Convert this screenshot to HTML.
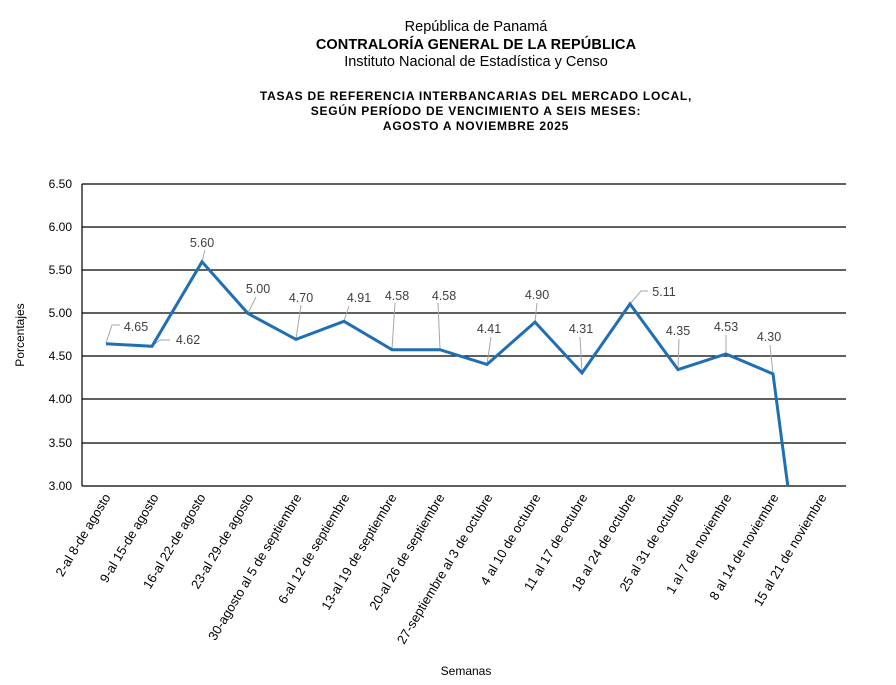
<!DOCTYPE html>
<html><head><meta charset="utf-8"><style>
body{margin:0;background:#fff;}
svg{display:block;font-family:"Liberation Sans",sans-serif;}
</style></head><body>
<svg width="896" height="685" viewBox="0 0 896 685">
<rect width="896" height="685" fill="#fff"/>
<g text-anchor="middle" fill="#000">
<text x="476" y="31" font-size="14.5">República de Panamá</text>
<text x="476" y="49" font-size="14.5" font-weight="bold" letter-spacing="0.1">CONTRALORÍA GENERAL DE LA REPÚBLICA</text>
<text x="476" y="66" font-size="14.5">Instituto Nacional de Estadística y Censo</text>
<text x="476" y="100" font-size="12" font-weight="bold" letter-spacing="0.75">TASAS DE REFERENCIA INTERBANCARIAS DEL MERCADO LOCAL,</text>
<text x="476" y="115" font-size="12" font-weight="bold" letter-spacing="0.75">SEGÚN PERÍODO DE VENCIMIENTO A SEIS MESES:</text>
<text x="476" y="130" font-size="12" font-weight="bold" letter-spacing="0.75">AGOSTO A NOVIEMBRE 2025</text>
</g>
<g stroke="#000" stroke-width="1.2">
<line x1="82" y1="184" x2="846" y2="184"/>
<line x1="82" y1="227" x2="846" y2="227"/>
<line x1="82" y1="270" x2="846" y2="270"/>
<line x1="82" y1="313" x2="846" y2="313"/>
<line x1="82" y1="356" x2="846" y2="356"/>
<line x1="82" y1="399" x2="846" y2="399"/>
<line x1="82" y1="443" x2="846" y2="443"/>
<line x1="82" y1="486" x2="846" y2="486"/>
<line x1="82" y1="184" x2="82" y2="486"/>
</g>
<g font-size="12" text-anchor="end" fill="#000">
<text x="72" y="188">6.50</text><text x="72" y="231">6.00</text><text x="72" y="274">5.50</text>
<text x="72" y="317">5.00</text><text x="72" y="360">4.50</text><text x="72" y="403">4.00</text>
<text x="72" y="447">3.50</text><text x="72" y="490">3.00</text>
</g>
<text transform="translate(24,335) rotate(-90)" font-size="12" text-anchor="middle">Porcentajes</text>
<text x="466" y="675" font-size="12" text-anchor="middle">Semanas</text>
<g stroke="#a6a6a6" stroke-width="1" fill="none">
<polyline points="106,343 112,325 120,325"/>
<polyline points="152,346 160,340 170,340"/>
<line x1="202" y1="262" x2="205" y2="250"/>
<line x1="248" y1="313" x2="256" y2="297"/>
<line x1="296" y1="339" x2="301" y2="305"/>
<line x1="344" y1="321" x2="349" y2="306"/>
<line x1="392" y1="349" x2="395" y2="303"/>
<line x1="440" y1="349" x2="438" y2="303"/>
<line x1="487" y1="364" x2="491" y2="337"/>
<line x1="535" y1="322" x2="537" y2="303"/>
<line x1="582" y1="373" x2="580" y2="337"/>
<polyline points="630,304 641,291 648,291"/>
<line x1="678" y1="369" x2="679" y2="339"/>
<line x1="726" y1="354" x2="726" y2="335"/>
<line x1="773" y1="374" x2="770" y2="345"/>
</g>
<polyline fill="none" stroke="#1f6fb5" stroke-width="3" stroke-linejoin="miter"
points="106,343.7 152,346.3 202,261.8 248,313.5 296,339.4 344,321.3 392,349.7 440,349.7 487,364.4 535,322.1 582,373 630,304 678,369.6 726,354 773,373.9 787.8,486"/>
<g font-size="12.5" fill="#404040" text-anchor="middle">
<text x="136" y="331">4.65</text><text x="188" y="344">4.62</text><text x="202" y="247">5.60</text>
<text x="258" y="293">5.00</text><text x="301" y="302">4.70</text><text x="359" y="302">4.91</text>
<text x="397" y="300">4.58</text><text x="444" y="300">4.58</text><text x="489" y="333">4.41</text>
<text x="537" y="299">4.90</text><text x="581" y="333">4.31</text><text x="664" y="296">5.11</text>
<text x="678" y="335">4.35</text><text x="726" y="331">4.53</text><text x="769" y="341">4.30</text>
</g>
<g font-size="13" text-anchor="end" fill="#000">
<text transform="translate(111,497) rotate(-59)">2-al 8-de agosto</text>
<text transform="translate(159,497) rotate(-59)">9-al 15-de agosto</text>
<text transform="translate(206,497) rotate(-59)">16-al 22-de agosto</text>
<text transform="translate(254,497) rotate(-59)">23-al 29-de agosto</text>
<text transform="translate(302,497) rotate(-59)">30-agosto al 5 de septiembre</text>
<text transform="translate(350,497) rotate(-59)">6-al 12 de septiembre</text>
<text transform="translate(397,497) rotate(-59)">13-al 19 de septiembre</text>
<text transform="translate(445,497) rotate(-59)">20-al 26 de septiembre</text>
<text transform="translate(493,497) rotate(-59)">27-septiembre al 3 de octubre</text>
<text transform="translate(541,497) rotate(-59)">4 al 10 de octubre</text>
<text transform="translate(588,497) rotate(-59)">11 al 17 de octubre</text>
<text transform="translate(636,497) rotate(-59)">18 al 24 de octubre</text>
<text transform="translate(684,497) rotate(-59)">25 al 31 de octubre</text>
<text transform="translate(732,497) rotate(-59)">1 al 7 de noviembre</text>
<text transform="translate(779,497) rotate(-59)">8 al 14 de noviembre</text>
<text transform="translate(827,497) rotate(-59)">15 al 21 de noviembre</text>
</g>
</svg>
</body></html>
